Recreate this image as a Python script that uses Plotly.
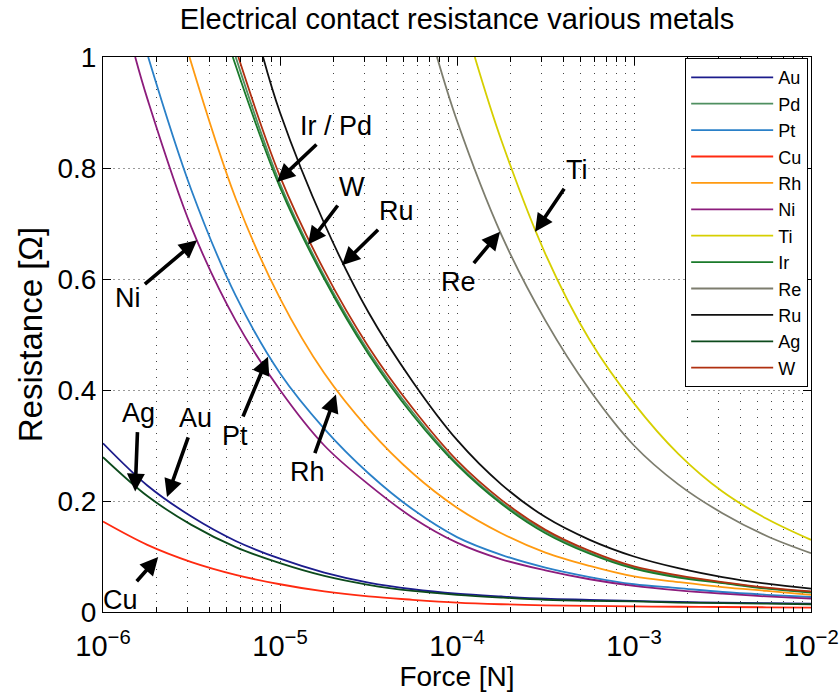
import math
import plotly.graph_objects as go

# Contact force (N) at quarter-decade steps; curves that leave the top of the
# plot start at the force where they cross 1 ohm.
au_force = [1e-6, 1.78e-6, 3.16e-6, 5.62e-6, 1e-5, 1.78e-5, 3.16e-5, 5.62e-5, 1e-4,
            1.78e-4, 3.16e-4, 5.62e-4, 1e-3, 1.78e-3, 3.16e-3, 5.62e-3, 1e-2]
au_res = [0.304, 0.228, 0.172, 0.128, 0.096, 0.071, 0.053, 0.041, 0.033,
          0.028, 0.024, 0.022, 0.020, 0.018, 0.017, 0.016, 0.015]

ag_force = au_force
ag_res = [0.279, 0.209, 0.157, 0.117, 0.088, 0.065, 0.049, 0.038, 0.031,
          0.026, 0.022, 0.020, 0.019, 0.017, 0.016, 0.015, 0.014]

cu_force = au_force
cu_res = [0.163, 0.121, 0.090, 0.067, 0.050, 0.037, 0.028, 0.022, 0.017,
          0.014, 0.012, 0.011, 0.010, 0.0095, 0.009, 0.0085, 0.008]

ni_force = [1.52e-6, 1.78e-6, 3.16e-6, 5.62e-6, 1e-5, 1.78e-5, 3.16e-5, 5.62e-5, 1e-4,
            1.78e-4, 3.16e-4, 5.62e-4, 1e-3, 1.78e-3, 3.16e-3, 5.62e-3, 1e-2]
ni_res = [1.0, 0.925, 0.693, 0.525, 0.400, 0.300, 0.230, 0.170, 0.125,
          0.095, 0.075, 0.059, 0.047, 0.039, 0.033, 0.028, 0.024]

pt_force = [1.80e-6, 3.16e-6, 5.62e-6, 1e-5, 1.78e-5, 3.16e-5, 5.62e-5, 1e-4,
            1.78e-4, 3.16e-4, 5.62e-4, 1e-3, 1.78e-3, 3.16e-3, 5.62e-3, 1e-2]
pt_res = [1.0, 0.760, 0.570, 0.430, 0.330, 0.250, 0.185, 0.135,
          0.103, 0.080, 0.063, 0.050, 0.043, 0.036, 0.031, 0.027]

rh_force = [3.08e-6, 5.62e-6, 1e-5, 1.78e-5, 3.16e-5, 5.62e-5, 1e-4,
            1.78e-4, 3.16e-4, 5.62e-4, 1e-3, 1.78e-3, 3.16e-3, 5.62e-3, 1e-2]
rh_res = [1.0, 0.745, 0.565, 0.430, 0.330, 0.250, 0.188,
          0.142, 0.107, 0.083, 0.064, 0.054, 0.045, 0.038, 0.031]

ir_force = [5.41e-6, 1e-5, 1.78e-5, 3.16e-5, 5.62e-5, 1e-4,
            1.78e-4, 3.16e-4, 5.62e-4, 1e-3, 1.78e-3, 3.16e-3, 5.62e-3, 1e-2]
ir_res = [1.0, 0.765, 0.600, 0.465, 0.355, 0.265,
          0.195, 0.142, 0.105, 0.078, 0.062, 0.052, 0.042, 0.035]

pd_force = [5.62e-6, 1e-5, 1.78e-5, 3.16e-5, 5.62e-5, 1e-4,
            1.78e-4, 3.16e-4, 5.62e-4, 1e-3, 1.78e-3, 3.16e-3, 5.62e-3, 1e-2]
pd_res = [1.0, 0.772, 0.605, 0.470, 0.360, 0.268,
          0.198, 0.145, 0.107, 0.080, 0.064, 0.053, 0.043, 0.036]

w_force = [5.82e-6, 1e-5, 1.78e-5, 3.16e-5, 5.62e-5, 1e-4,
           1.78e-4, 3.16e-4, 5.62e-4, 1e-3, 1.78e-3, 3.16e-3, 5.62e-3, 1e-2]
w_res = [1.0, 0.785, 0.615, 0.478, 0.367, 0.273,
         0.202, 0.148, 0.110, 0.082, 0.066, 0.054, 0.044, 0.037]

ru_force = [8.02e-6, 1e-5, 1.78e-5, 3.16e-5, 5.62e-5, 1e-4,
            1.78e-4, 3.16e-4, 5.62e-4, 1e-3, 1.78e-3, 3.16e-3, 5.62e-3, 1e-2]
ru_res = [1.0, 0.900, 0.700, 0.540, 0.415, 0.310,
          0.230, 0.171, 0.130, 0.100, 0.079, 0.063, 0.051, 0.042]

re_force = [7.71e-5, 1e-4, 1.78e-4, 3.16e-4, 5.62e-4, 1e-3, 1.78e-3, 3.16e-3, 5.62e-3, 1e-2]
re_res = [1.0, 0.885, 0.680, 0.525, 0.400, 0.300, 0.230, 0.178, 0.137, 0.106]

ti_force = [1.26e-4, 1.78e-4, 3.16e-4, 5.62e-4, 1e-3, 1.78e-3, 3.16e-3, 5.62e-3, 1e-2]
ti_res = [1.0, 0.850, 0.645, 0.490, 0.376, 0.285, 0.217, 0.168, 0.130]

# Legend order and line colours
series = [
    ("Au", au_force, au_res, "#1c1c8c"),
    ("Pd", pd_force, pd_res, "#4f8f60"),
    ("Pt", pt_force, pt_res, "#2a80c8"),
    ("Cu", cu_force, cu_res, "#ff2a10"),
    ("Rh", rh_force, rh_res, "#ff9a10"),
    ("Ni", ni_force, ni_res, "#8c1c7c"),
    ("Ti", ti_force, ti_res, "#d6cf00"),
    ("Ir", ir_force, ir_res, "#1a7a2a"),
    ("Re", re_force, re_res, "#7d7d6e"),
    ("Ru", ru_force, ru_res, "#101010"),
    ("Ag", ag_force, ag_res, "#0c4a1c"),
    ("W", w_force, w_res, "#b03010"),
]

# Callout labels: text, arrow-tip force, arrow-tip resistance, text offset (px)
callouts = [
    ("Ir / Pd", 9.62e-6, 0.775, 59, -56),
    ("W", 1.44e-5, 0.662, 44, -58),
    ("Ru", 2.24e-5, 0.625, 55, -54),
    ("Ni", 3.40e-6, 0.670, -69, 58),
    ("Pt", 8.55e-6, 0.460, -33, 79),
    ("Rh", 2.07e-5, 0.392, -28, 78),
    ("Ag", 1.52e-6, 0.217, 3, -79),
    ("Au", 2.30e-6, 0.207, 28, -79),
    ("Cu", 2.05e-6, 0.099, -38, 43),
    ("Re", 1.75e-4, 0.685, -42, 50),
    ("Ti", 2.76e-4, 0.685, 42, -62),
]

x_tick_vals = [1e-6, 1e-5, 1e-4, 1e-3, 1e-2]
x_tick_text = ["10<sup>\u22126</sup>", "10<sup>\u22125</sup>", "10<sup>\u22124</sup>",
               "10<sup>\u22123</sup>", "10<sup>\u22122</sup>"]
x_minor_vals = [m * 10.0 ** e for e in range(-6, -2) for m in range(2, 10)]
y_tick_vals = [0, 0.2, 0.4, 0.6, 0.8, 1.0]
y_tick_text = ["0", "0.2", "0.4", "0.6", "0.8", "1"]
x_range = [-6, -2]

FONT = "Liberation Sans, Arial, Helvetica, sans-serif"

fig = go.Figure()
for name, fx, fy, color in series:
    fig.add_trace(go.Scatter(
        x=fx, y=fy, name=name, mode="lines",
        line=dict(color=color, width=1.8, shape="spline", smoothing=1.0),
    ))

# empty trace so the label-carrying overlay axis gets drawn
fig.add_trace(go.Scatter(x=[], y=[], xaxis="x2", yaxis="y", mode="lines",
                         showlegend=False, hoverinfo="skip"))

for text, fx, fy, dx, dy in callouts:
    fig.add_annotation(
        x=math.log10(fx), y=fy, xref="x", yref="y",
        text=text, showarrow=True, ax=dx, ay=dy,
        arrowhead=2, arrowsize=1.0, arrowwidth=3.6, arrowcolor="black",
        startstandoff=3,
        font=dict(family=FONT, size=27, color="black"),
    )

fig.update_layout(
    width=839, height=692,
    margin=dict(l=103, r=28, t=57, b=80),
    paper_bgcolor="white", plot_bgcolor="white",
    font=dict(family=FONT, color="black"),
    title=dict(text="Electrical contact resistance various metals",
               x=0.5, xref="paper", xanchor="center",
               y=1 - 19 / 692, yref="container", yanchor="middle",
               font=dict(size=29, family=FONT, color="black")),
    showlegend=True,
    legend=dict(x=0.996, xanchor="right", y=0.998, yanchor="top",
                bgcolor="white", bordercolor="black", borderwidth=1,
                font=dict(size=18, family=FONT, color="black"),
                itemwidth=82, tracegroupgap=0),
    # main axis: inside ticks, dotted grid, no labels
    xaxis=dict(
        type="log", range=x_range,
        tickvals=x_tick_vals, showticklabels=False,
        ticks="inside", ticklen=8, tickcolor="black",
        showline=True, linecolor="black", linewidth=1, mirror="ticks",
        showgrid=True, gridcolor="#444444", gridwidth=1, griddash="1px,7px",
        minor=dict(tickvals=x_minor_vals, ticks="inside", ticklen=5, tickcolor="black",
                   showgrid=True, gridcolor="#444444", gridwidth=1, griddash="1px,7px"),
        automargin=False, zeroline=False,
    ),
    # overlay axis carrying the decade labels and the axis title
    xaxis2=dict(
        type="log", range=x_range, overlaying="x", anchor="y", side="bottom",
        tickvals=x_tick_vals, ticktext=x_tick_text,
        tickfont=dict(size=29, family=FONT, color="black"),
        ticks="outside", ticklen=8, tickcolor="rgba(0,0,0,0)",
        ticklabeloverflow="allow",
        showline=False, showgrid=False, zeroline=False,
        title=dict(text="Force [N]", font=dict(size=28, family=FONT, color="black"), standoff=6),
        automargin=False,
    ),
    yaxis=dict(
        range=[0, 1],
        tickvals=y_tick_vals, ticktext=y_tick_text,
        tickfont=dict(size=28, family=FONT, color="black"),
        ticks="inside", ticklen=8, tickcolor="black",
        showline=True, linecolor="black", linewidth=1, mirror="ticks",
        showgrid=True, gridcolor="#9a9a9a", gridwidth=1, griddash="2px,3px",
        title=dict(text="Resistance [\u03a9]", font=dict(size=33, family=FONT, color="black"), standoff=4),
        automargin=False, zeroline=False,
    ),
)

fig.write_html("out.html")
